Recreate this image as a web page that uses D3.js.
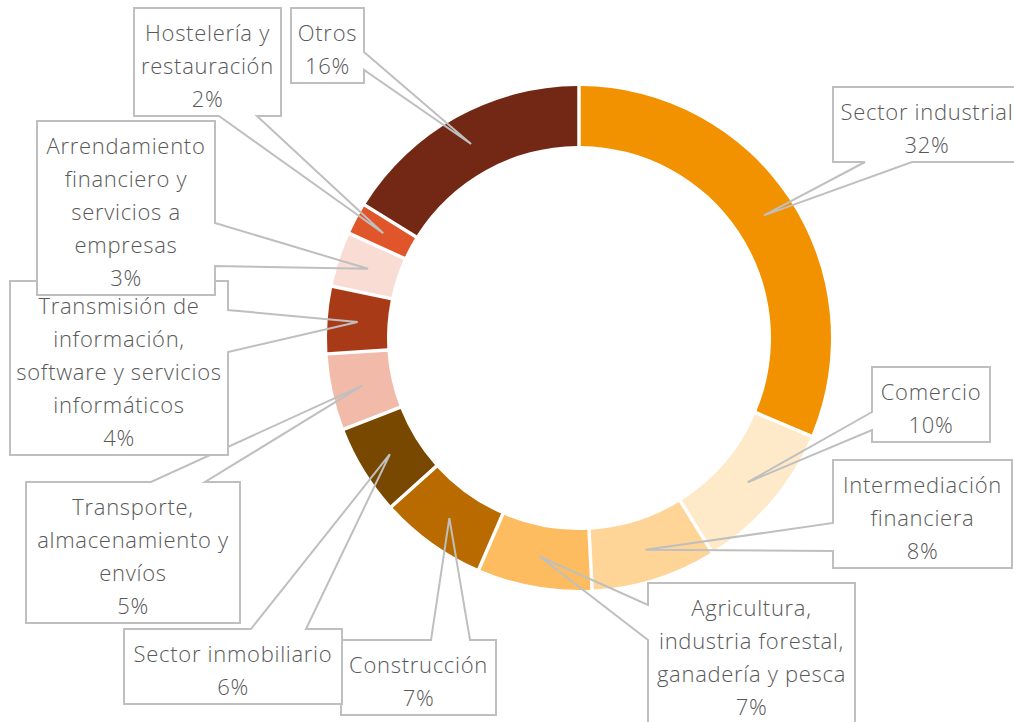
<!DOCTYPE html>
<html>
<head>
<meta charset="utf-8">
<script src="https://cdn.jsdelivr.net/npm/d3@7"></script>
<style>
  html, body { margin: 0; padding: 0; background: #fff; }
  svg { display: block; }
</style>
</head>
<body>
<div id="chart"></div>
<script>
// sectors, clockwise from 12 o'clock
var sectors = ["Sector industrial", "Comercio", "Intermediación financiera",
    "Agricultura, industria forestal, ganadería y pesca", "Construcción",
    "Sector inmobiliario", "Transporte, almacenamiento y envíos",
    "Transmisión de información, software y servicios informáticos",
    "Arrendamiento financiero y servicios a empresas",
    "Hostelería y restauración", "Otros"];
var shares = [31.8, 9.8, 8.0, 7.3, 6.8, 5.7, 4.8, 4.2, 3.4, 1.9, 16.3];
var labelLines = [
    ["Sector industrial"],
    ["Comercio"],
    ["Intermediación", "financiera"],
    ["Agricultura,", "industria forestal,", "ganadería y pesca"],
    ["Construcción"],
    ["Sector inmobiliario"],
    ["Transporte,", "almacenamiento y", "envíos"],
    ["Transmisión de", "información,", "software y servicios", "informáticos"],
    ["Arrendamiento", "financiero y", "servicios a", "empresas"],
    ["Hostelería y", "restauración"],
    ["Otros"]
];
var colors = ["#F39200", "#FEE9C9", "#FED597", "#FDBC5F", "#B96B00", "#784700",
    "#F2BBA9", "#A93A18", "#F9DCD4", "#E1552A", "#722814"];

// callout boxes (layout only): left, top, width, side the pointer leaves from, pointer base
var callouts = [
    {x: 833, y: 87,  w: 188, side: "bottom", base: [865, 912]},
    {x: 872, y: 367, w: 118, side: "left",   base: [412, 430]},
    {x: 833, y: 460, w: 179, side: "left",   base: [523, 551]},
    {x: 648, y: 583, w: 207, side: "left",   base: [605, 640]},
    {x: 341, y: 640, w: 155, side: "top",    base: [431, 470]},
    {x: 124, y: 629, w: 218, side: "top",    base: [251, 306]},
    {x: 26,  y: 482, w: 214, side: "top",    base: [151, 205]},
    {x: 10,  y: 281, w: 218, side: "right",  base: [310, 352]},
    {x: 37,  y: 121, w: 178, side: "right",  base: [223, 266]},
    {x: 134, y: 8,   w: 147, side: "bottom", base: [219, 257]},
    {x: 291, y: 8,   w: 73,  side: "right",  base: [52, 70]}
];

var width = 1014, height = 722;
var cx = 579, cy = 338;
var lineStep = 33;

var svg = d3.select("#chart").append("svg")
    .attr("width", width)
    .attr("height", height);

var pie = d3.pie().sort(null).value(function(d) { return d; }).padAngle(0.011);
var arc = d3.arc().innerRadius(192).outerRadius(252);
var arcs = pie(shares);

var ring = svg.append("g").attr("transform", "translate(" + cx + "," + cy + ")");
ring.selectAll("path")
    .data(arcs)
    .enter().append("path")
    .attr("d", arc)
    .attr("fill", function(d, i) { return colors[i]; });

function calloutPath(b, h, tip) {
    var x0 = b.x, y0 = b.y, x1 = b.x + b.w, y1 = b.y + h;
    var p = d3.path();
    p.moveTo(x0, y0);
    if (b.side == "top") {
        p.lineTo(b.base[0], y0); p.lineTo(tip[0], tip[1]); p.lineTo(b.base[1], y0);
    }
    p.lineTo(x1, y0);
    if (b.side == "right") {
        p.lineTo(x1, b.base[0]); p.lineTo(tip[0], tip[1]); p.lineTo(x1, b.base[1]);
    }
    p.lineTo(x1, y1);
    if (b.side == "bottom") {
        p.lineTo(b.base[1], y1); p.lineTo(tip[0], tip[1]); p.lineTo(b.base[0], y1);
    }
    p.lineTo(x0, y1);
    if (b.side == "left") {
        p.lineTo(x0, b.base[1]); p.lineTo(tip[0], tip[1]); p.lineTo(x0, b.base[0]);
    }
    p.closePath();
    return p.toString();
}

// callouts drawn in slice order, later ones on top
for (var i = 0; i < arcs.length; i++) {
    var b = callouts[i];
    var lines = labelLines[i].concat([Math.round(shares[i]) + "%"]);
    var h = lines.length * lineStep + 9;
    var c = arc.centroid(arcs[i]);
    var tip = [cx + c[0], cy + c[1]];

    var g = svg.append("g").attr("class", "callout");
    g.append("rect")
        .attr("x", b.x).attr("y", b.y)
        .attr("width", b.w).attr("height", h)
        .attr("fill", "#fff");
    g.append("path")
        .attr("d", calloutPath(b, h, tip))
        .attr("fill", "none")
        .attr("stroke", "#BFBFBF")
        .attr("stroke-width", 2);

    g.selectAll("text")
        .data(lines)
        .enter().append("text")
        .text(function(d) { return d; })
        .attr("x", b.x + b.w / 2)
        .attr("y", function(d, j) { return b.y + 24 + j * lineStep; })
        .attr("text-anchor", "middle")
        .attr("dominant-baseline", "central")
        .attr("font-family", "'Open Sans', sans-serif")
        .attr("font-weight", 300)
        .attr("font-size", "22px")
        .attr("letter-spacing", "0.7px")
        .attr("fill", "#595959");
}
</script>
</body>
</html>
